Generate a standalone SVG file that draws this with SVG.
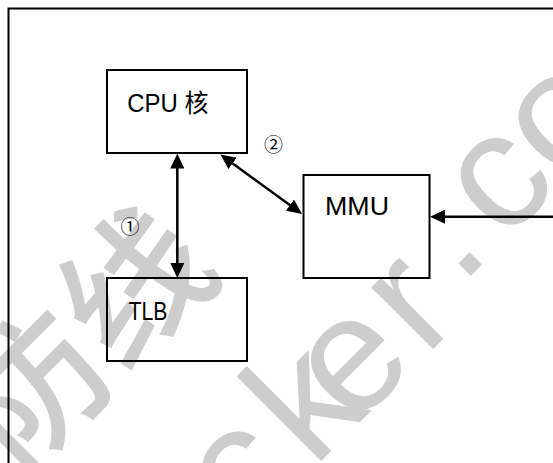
<svg xmlns="http://www.w3.org/2000/svg" width="553" height="463" viewBox="0 0 553 463">
  <style>
    .box { fill: none; stroke: #000; stroke-width: 2; }
    .lbl { font-family: "Liberation Sans", "Noto Sans CJK SC", sans-serif; font-size: 25px; fill: #000; }
    .num { font-family: "Noto Sans CJK SC", "DejaVu Sans", sans-serif; font-size: 19px; fill: #000; text-anchor: middle; }
    .conn { stroke: #000; stroke-width: 2.5; fill: none; }
    .wm { fill: #cdcdcd; }
    .wm-cjk { font-family: "Noto Sans CJK SC", sans-serif; font-size: 145px; font-weight: 500; }
    .wm-lat { font-family: "Liberation Sans", sans-serif; font-size: 165px; }
  </style>
  <defs>
    <marker id="ah" viewBox="0 0 15 14" markerWidth="15" markerHeight="14" refX="10" refY="7" orient="auto-start-reverse" markerUnits="userSpaceOnUse">
      <path d="M0,0 L15,7 L0,14 z" fill="#000"/>
    </marker>
  </defs>
  <rect x="0" y="0" width="553" height="463" fill="#fff"/>

  <g id="watermark" class="wm" transform="rotate(-45)">
    <text class="wm-cjk" x="-324" y="351">防线</text>
    <text class="wm-lat" x="-206 -110 -53 48 123 184 266" y="553 553 553 553 528 528 528">cker.co</text>
  </g>

  <g id="frame">
    <path d="M8.5,470 V8.5 H560" class="box"/>
  </g>

  <g id="cpu">
    <rect x="107" y="70" width="140" height="83" class="box"/>
    <text class="lbl" x="127.3" y="111.7" textLength="81" lengthAdjust="spacingAndGlyphs">CPU 核</text>
  </g>

  <g id="tlb">
    <rect x="107" y="278" width="140" height="83" class="box"/>
    <text class="lbl" x="128.5" y="320" textLength="39" lengthAdjust="spacingAndGlyphs">TLB</text>
  </g>

  <g id="mmu">
    <rect x="303.5" y="175" width="126" height="103" class="box"/>
    <text class="lbl" x="325" y="215" textLength="64" lengthAdjust="spacingAndGlyphs">MMU</text>
  </g>

  <g id="connectors">
    <line x1="177.3" y1="158.5" x2="177.3" y2="273" class="conn" marker-start="url(#ah)" marker-end="url(#ah)"/>
    <line x1="224.5" y1="157.5" x2="298" y2="211" class="conn" marker-start="url(#ah)" marker-end="url(#ah)"/>
    <line x1="553" y1="216.7" x2="435" y2="216.7" class="conn" marker-end="url(#ah)"/>
    <text class="num" x="130" y="234">①</text>
    <text class="num" x="273.5" y="152">②</text>
  </g>
</svg>
